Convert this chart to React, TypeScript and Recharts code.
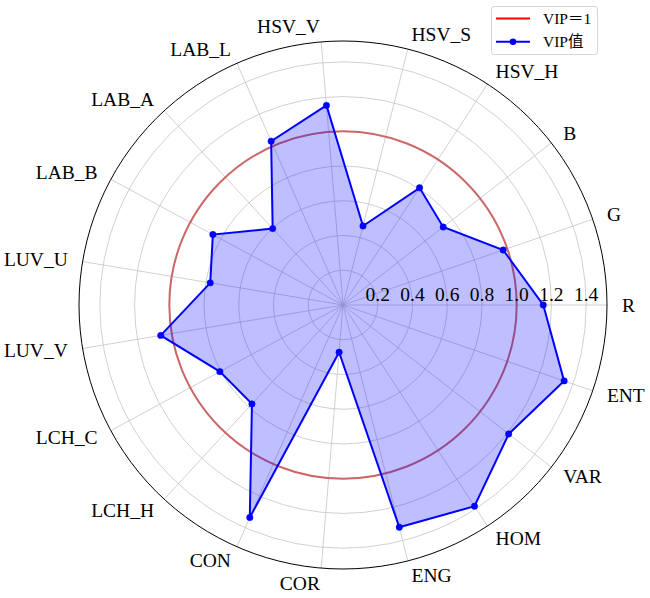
import React from 'react';
import { RadarChart, Radar, PolarGrid, PolarAngleAxis, PolarRadiusAxis, Legend } from 'recharts';

const categories = ['R', 'G', 'B', 'HSV_H', 'HSV_S', 'HSV_V', 'LAB_L', 'LAB_A', 'LAB_B', 'LUV_U', 'LUV_V', 'LCH_C', 'LCH_H', 'CON', 'COR', 'ENG', 'HOM', 'VAR', 'ENT'];
const vipValues = [1.153, 0.975, 0.731, 0.806, 0.469, 1.153, 1.03, 0.598, 0.852, 0.775, 1.064, 0.806, 0.774, 1.336, 0.273, 1.32, 1.384, 1.209, 1.346];
const thresholdValue = 1;
const radiusMax = 1.52;
const radiusTicks = [0.2, 0.4, 0.6, 0.8, 1.0, 1.2, 1.4];
const thresholdName = 'VIP＝1';
const vipName = 'VIP值';

// Recharts lays categories out clockwise from startAngle; the reference runs
// counter-clockwise from R, so the table lists R first and then the rest backwards.
const order = [0, ...categories.map((_, i) => categories.length - 1 - i).slice(0, categories.length - 1)];
const data = order.map((i) => ({
  name: categories[i],
  vip: vipValues[i],
  threshold: thresholdValue,
  frame: radiusMax,
}));

const FONT = "'Liberation Serif', 'Times New Roman', 'Noto Sans CJK SC', serif";

const CircleShape = (stroke: string, width: number, opacity: number) => (props: any) => {
  const pts = props.points || [];
  if (!pts.length) return null;
  const p = pts[0];
  return <circle cx={p.cx} cy={p.cy} r={p.radius} fill="none" stroke={stroke} strokeWidth={width} strokeOpacity={opacity} />;
};

const AngleTick = (props: any) => {
  const { x, y, textAnchor, payload } = props;
  return (
    <text x={x} y={y} textAnchor={textAnchor} dominantBaseline="central" fontSize={19.5} fontFamily={FONT} fill="#000">
      {payload.value}
    </text>
  );
};

const RadiusTick = (props: any) => {
  const { x, y, payload } = props;
  return (
    <text x={x} y={y - 4.5} textAnchor="middle" fontSize={19.5} fontFamily={FONT} fill="#000">
      {Number(payload.value).toFixed(1)}
    </text>
  );
};

const LegendContent = () => (
  <div style={{ width: 107, height: 49, boxSizing: 'border-box', border: '1px solid #d6d6d6', borderRadius: 3, background: '#fff' }}>
    <svg width={105} height={47} style={{ display: 'block' }}>
      <line x1={4} x2={38} y1={11.5} y2={11.5} stroke="#ff0000" strokeWidth={2} />
      <text x={51} y={11.5} dominantBaseline="central" fontSize={15.5} fontFamily={FONT} fill="#000">{thresholdName}</text>
      <line x1={4} x2={38} y1={34.8} y2={34.8} stroke="#0000ff" strokeWidth={2} />
      <circle cx={21} cy={34.8} r={3.3} fill="#0000ff" />
      <text x={51} y={34.8} dominantBaseline="central" fontSize={15.5} fontFamily={FONT} fill="#000">{vipName}</text>
    </svg>
  </div>
);

export default function App() {
  return (
    <div style={{ position: 'absolute', left: 0, top: 0, width: 650, height: 598, background: '#fff' }}>
      <RadarChart
        width={650}
        height={598}
        data={data}
        cx={343}
        cy={305}
        outerRadius={264}
        startAngle={360}
        endAngle={0}
        margin={{ top: 0, right: 0, bottom: 0, left: 0 }}
      >
        <PolarGrid gridType="circle" stroke="#c4c4c4" strokeWidth={0.8} />
        <PolarAngleAxis dataKey="name" tick={AngleTick} tickLine={false} axisLine={false} tickSize={15} />
        <PolarRadiusAxis
          type="number"
          angle={0}
          domain={[0, radiusMax]}
          allowDataOverflow={true}
          allowDecimals={true}
          tickCount={20}
          ticks={radiusTicks}
          axisLine={false}
          tickLine={false}
          tick={RadiusTick}
        />
        <Radar
          dataKey="frame"
          legendType="none"
          isAnimationActive={false}
          shape={CircleShape('#000', 1, 1)}
        />
        <Radar
          name={thresholdName}
          dataKey="threshold"
          isAnimationActive={false}
          stroke="#ff0000"
          shape={CircleShape('#c85a5a', 2, 0.9)}
        />
        <Radar
          name={vipName}
          dataKey="vip"
          isAnimationActive={false}
          stroke="#0000ff"
          strokeWidth={2}
          fill="#0000ff"
          fillOpacity={0.25}
          dot={{ r: 3.2, fill: '#0000ff', fillOpacity: 1, stroke: '#0000ff', strokeWidth: 0.5 }}
        />
        <Legend
          layout="vertical"
          align="right"
          verticalAlign="top"
          content={LegendContent}
          wrapperStyle={{ position: 'absolute', left: 491, top: 6, right: 'auto', width: 107, height: 49 }}
        />
      </RadarChart>
    </div>
  );
}
